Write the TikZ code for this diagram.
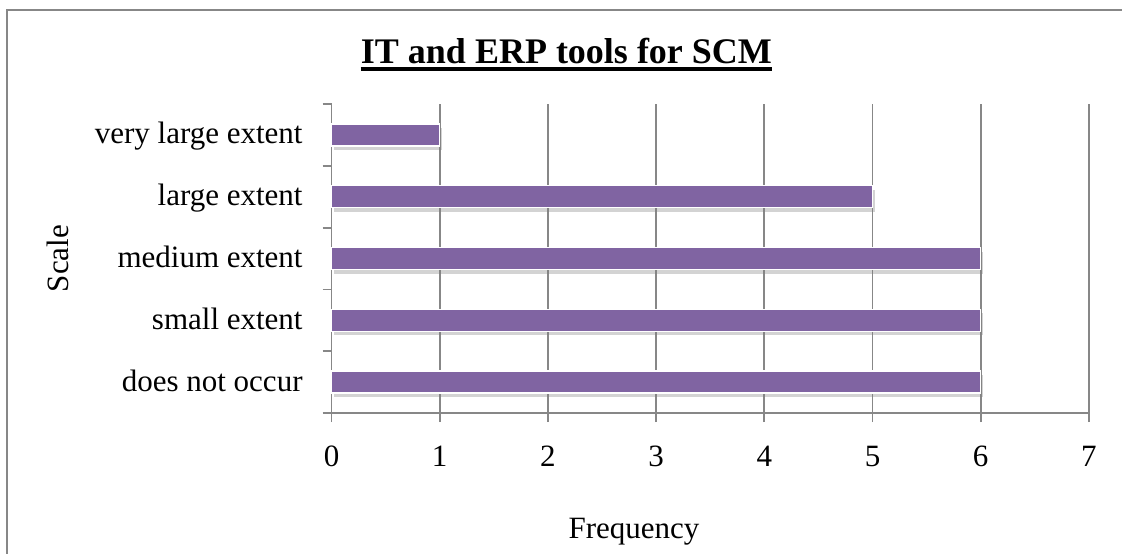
\documentclass[tikz,border=0pt]{standalone}
\usepackage{fontspec}
\setmainfont{Liberation Serif}
\usetikzlibrary{shadows}
\definecolor{barpurple}{HTML}{8064A2}
\definecolor{axisgray}{HTML}{878787}
\begin{document}
\begin{tikzpicture}[x=54.1pt,y=30.9pt,
  every node/.style={font=\fontsize{15.5}{18}\selectfont},
  grid/.style={axisgray,line width=.9pt},
  bar/.style={fill=barpurple,draw=white,line width=.7pt,
    drop shadow={shadow xshift=1pt,shadow yshift=-2pt,opacity=.35}}]
\clip(-165.75pt,-70pt)rectangle(395.25pt,206.5pt);
% frame
\draw[axisgray,line width=1.4pt](-162.25pt,-80pt)rectangle(410pt,201.5pt);
% title
\node[inner sep=0,anchor=base,font=\fontsize{18}{22}\selectfont\bfseries](title)at(117.5pt,174.85pt){IT and ERP tools for SCM};
\draw[line width=2pt]([yshift=-2.85pt]title.base west)--([yshift=-2.85pt]title.base east);
% grid and axes
\foreach \k in {1,...,7}\draw[grid](\k,-4.5pt)--(\k,5);
\draw[grid](-4.5pt,0)--(7,0);
\draw[grid](0,-4.5pt)--(0,5);
\foreach \i in {1,...,5}\draw[grid](-4.5pt,\i)--(0,\i);
\foreach \k in {0,...,7}\node[anchor=base](t\k)at(\k,-26.5pt){\k};
% bars
\foreach \v [count=\i from 0] in {6,6,6,5,1}\draw[bar](0,\i+.322)rectangle(\v,\i+.678);
\foreach \lab [count=\i from 0] in {does not occur,small extent,medium extent,large extent,very large extent}
  \node[anchor=base east,inner sep=0](c\i)at(-14.25pt,\i+.354){\lab};
% axis titles
\node[anchor=base](freq)at(151.25pt,-62.5pt){Frequency};
\node[rotate=90,anchor=base](scale)at(-131.25pt,2.5){Scale};
\end{tikzpicture}
\end{document}
